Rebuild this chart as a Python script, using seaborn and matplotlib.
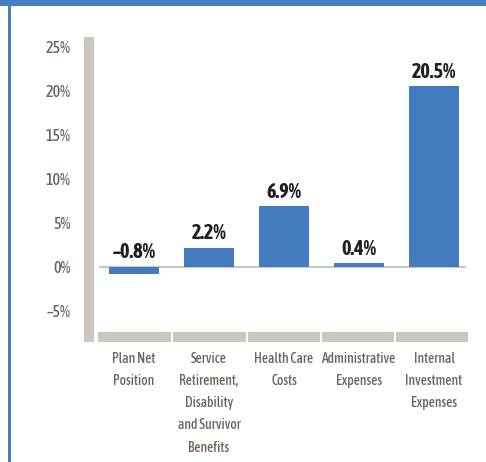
import matplotlib
matplotlib.use('Agg')
import matplotlib.pyplot as plt
from matplotlib.patches import Rectangle
import seaborn as sns
import pandas as pd

categories = ['Plan Net\nPosition',
              'Service\nRetirement,\nDisability\nand Survivor\nBenefits',
              'Health Care\nCosts',
              'Administrative\nExpenses',
              'Internal\nInvestment\nExpenses']
values = [-0.8, 2.2, 6.9, 0.4, 20.5]
value_labels = ['–0.8%', '2.2%', '6.9%', '0.4%', '20.5%']
y_ticks = [-5, 0, 5, 10, 15, 20, 25]
y_tick_labels = ['–5%', '0%', '5%', '10%', '15%', '20%', '25%']

bar_blue = '#437BBF'
frame_blue = '#4A7EC2'
gray = '#CBC6C0'
tick_col = '#6E645B'
label_col = '#231F20'

sns.set_style('white')
plt.rcParams['font.family'] = ['Asap Condensed', 'DejaVu Sans']

W, H = 486, 462
fig = plt.figure(figsize=(W / 100, H / 100), dpi=100)
fig.patch.set_facecolor('white')


def px_rect(x0, y0, x1, y1, color):
    # rectangle in pixel coords (origin top-left)
    fig.patches.append(Rectangle((x0 / W, 1 - y1 / H), (x1 - x0) / W, (y1 - y0) / H,
                                 transform=fig.transFigure, color=color, zorder=0,
                                 linewidth=0))


# frame
px_rect(0, 0, W, 6, frame_blue)
px_rect(8, 0, 11, H, frame_blue)

# gray axis bars
px_rect(84, 37, 94, 342, gray)
px_rect(98, 332, 468, 342, gray)
for xs in [172, 247, 321, 395]:
    px_rect(xs - 0.6, 332, xs + 0.6, 342, 'white')

ax = fig.add_axes([84 / W, 1 - 342 / H, (470 - 84) / W, (342 - 37) / H])
ax.patch.set_alpha(0)

df = pd.DataFrame({'cat': categories, 'val': values})
sns.barplot(data=df, x='cat', y='val', color=bar_blue, width=0.667,
            saturation=1, linewidth=0, ax=ax, zorder=3)

ax.set_xlim(-0.667, 4.48)
ax.set_ylim(-8.52, 26.1)

# zero line
ax.plot([-0.47, 4.43], [0, 0], color=gray, lw=1.6, zorder=2, solid_capstyle='butt')

for i, (v, lab) in enumerate(zip(values, value_labels)):
    ax.annotate(lab, (i, max(v, 0)), xytext=(0, 10.5), textcoords='offset points',
                ha='center', va='center', fontsize=14.5, fontweight='bold',
                color=label_col)

ax.set_yticks(y_ticks)
ax.set_yticklabels(y_tick_labels, fontweight='medium')
ax.tick_params(axis='y', length=0, pad=9.5, labelsize=11.5, labelcolor=tick_col)
ax.tick_params(axis='x', length=0, pad=7, labelsize=9.8, labelcolor=tick_col)
for t in ax.get_xticklabels():
    t.set_linespacing(1.75)
    t.set_va('top')
    t.set_fontweight('medium')
ax.set_xlabel('')
ax.set_ylabel('')
for s in ax.spines.values():
    s.set_visible(False)

fig.savefig('out.png', dpi=100)
